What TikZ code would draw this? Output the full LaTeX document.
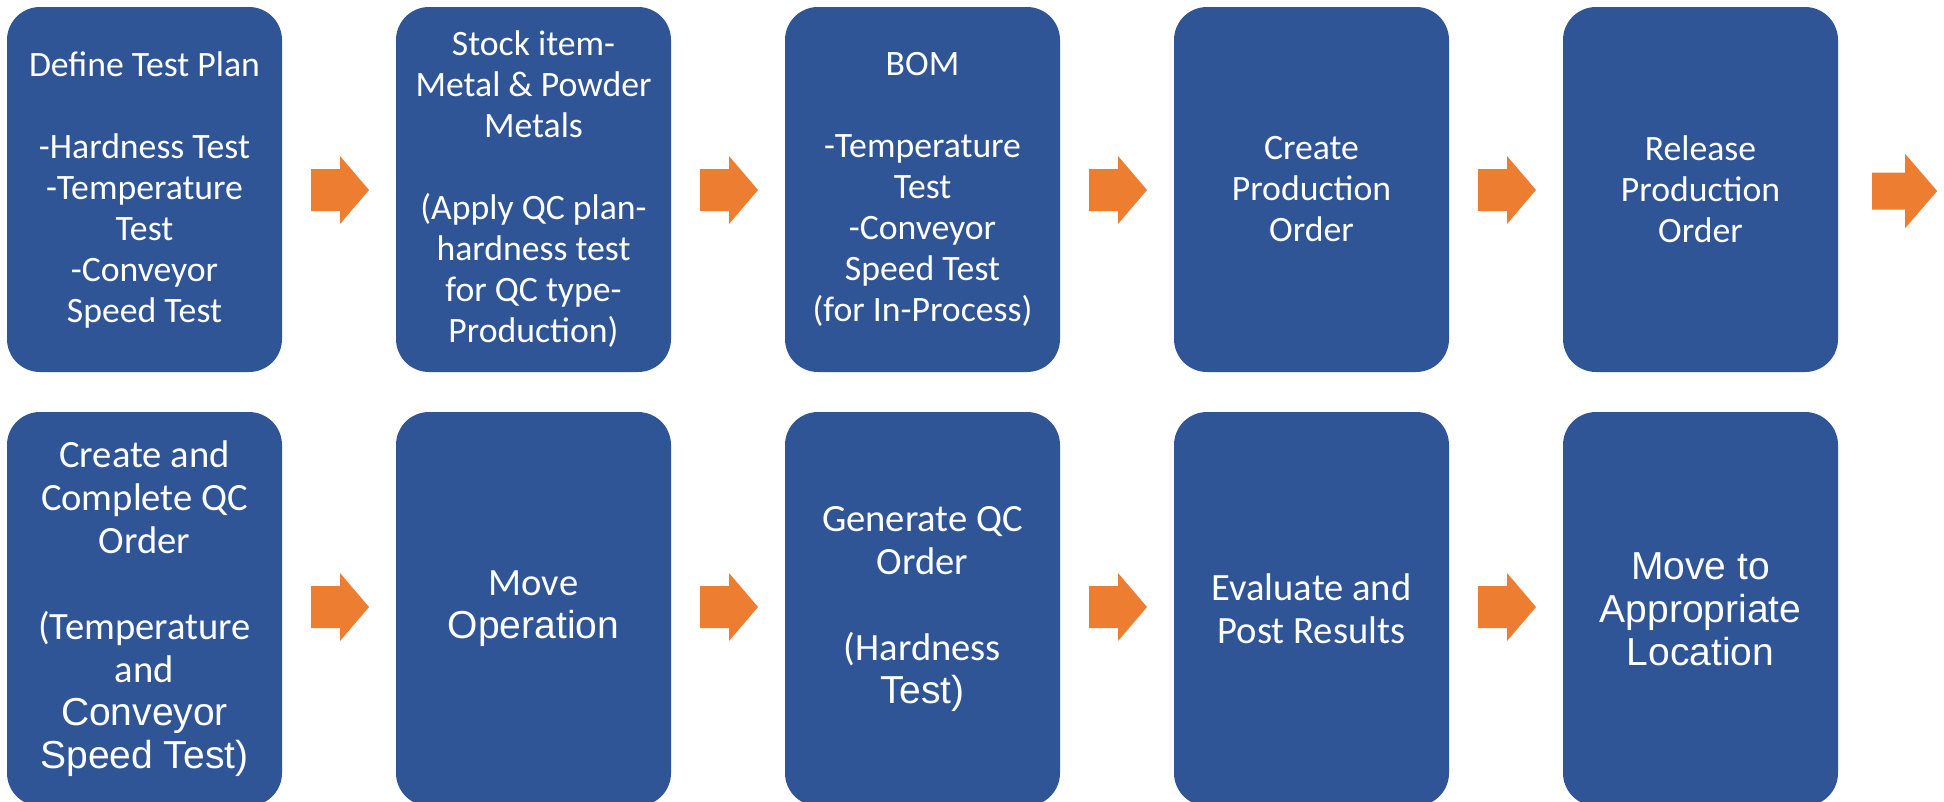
\documentclass[tikz,border=0pt]{standalone}
\usepackage{fontspec}
\setmainfont{Carlito}
\newfontfamily\arialfont{Liberation Sans}
\usetikzlibrary{calc}
\definecolor{boxblue}{HTML}{2F5597}
\definecolor{arrorange}{HTML}{ED7D31}
\newcommand\arl[1]{{\arialfont\fontsize{39}{43}\selectfont #1}}
\begin{document}
\begin{tikzpicture}[x=1pt,y=-1pt,
  box/.style={fill=boxblue, draw=none, rounded corners=33pt, text=white, align=center, inner sep=0pt},
  toprow/.style={box, minimum width=275pt, minimum height=365pt, font=\fontsize{35.7}{41}\selectfont},
  botrow/.style={box, minimum width=275pt, minimum height=394pt, font=\fontsize{38.6}{43}\selectfont},
  barrow/.pic={\fill[arrorange] (-29,-21) -- (0,-21) -- (0,-34) -- (29,0) -- (0,34) -- (0,21) -- (-29,21) -- cycle;},
  barrowend/.pic={\fill[arrorange] (-33,-18.5) -- (0,-18.5) -- (0,-37) -- (32,0) -- (0,37) -- (0,18.5) -- (-33,18.5) -- cycle;}
]
\useasboundingbox (0,0) rectangle (1944,801);
\clip (0,0) rectangle (1944,801);

% top row
\node[toprow] (b1) at (144.5,189.5) {Define Test Plan\\\mbox{}\\-Hardness Test\\-Temperature\\Test\\-Conveyor\\Speed Test};
\node[toprow] (b2) at (533.5,189.5) {Stock item-\\Metal \& Powder\\Metals\\\mbox{}\\(Apply QC plan-\\hardness test\\for QC type-\\Production)};
\node[toprow] (b3) at (922.5,189.5) {BOM\\\mbox{}\\-Temperature\\Test\\-Conveyor\\Speed Test\\(for In-Process)};
\node[toprow] (b4) at (1311.5,189.5) {Create\\Production\\Order};
\node[toprow] (b5) at (1700.5,189.5) {Release\\Production\\Order};

% bottom row
\node[botrow] (c1) at (144.5,609) {Create and\\Complete QC\\Order\\\mbox{}\\(Temperature\\and\\\arl{Conveyor}\\\arl{Speed Test)}};
\node[botrow] (c2) at (533.5,609) {Move\\\arl{Operation}};
\node[botrow] (c3) at (922.5,609) {Generate QC\\Order\\\mbox{}\\(Hardness\\\arl{Test)}};
\node[botrow] (c4) at (1311.5,609) {Evaluate and\\Post Results};
\node[botrow, font=\arialfont\fontsize{39}{43}\selectfont] (c5) at (1700.5,609) {Move to\\Appropriate\\Location};

% arrows top
\pic at ($(b1.east)!0.5!(b2.west)+(1,0.5)$) {barrow};
\pic at ($(b2.east)!0.5!(b3.west)+(1,0.5)$) {barrow};
\pic at ($(b3.east)!0.5!(b4.west)+(1,0.5)$) {barrow};
\pic at ($(b4.east)!0.5!(b5.west)+(1,0.5)$) {barrow};
\pic at ($(b5.east)+(67,1.5)$) {barrowend};

% arrows bottom
\pic at ($(c1.east)!0.5!(c2.west)+(1,-2)$) {barrow};
\pic at ($(c2.east)!0.5!(c3.west)+(1,-2)$) {barrow};
\pic at ($(c3.east)!0.5!(c4.west)+(1,-2)$) {barrow};
\pic at ($(c4.east)!0.5!(c5.west)+(1,-2)$) {barrow};
\end{tikzpicture}
\end{document}
